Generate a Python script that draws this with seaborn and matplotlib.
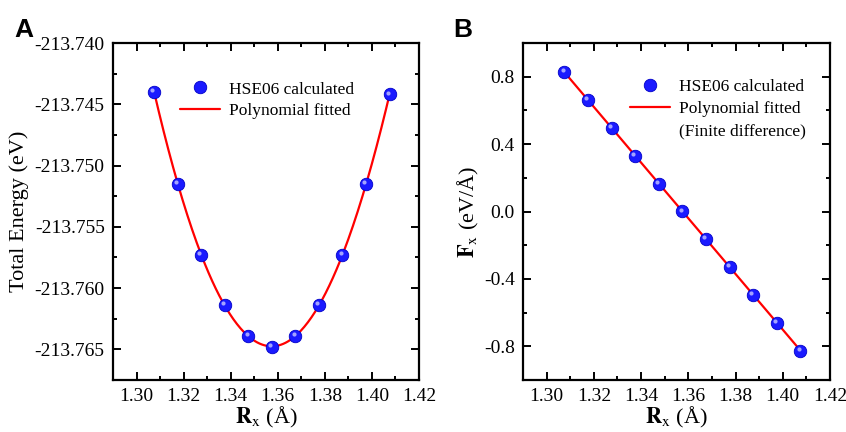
import numpy as np
import pandas as pd
import matplotlib
matplotlib.use("Agg")
import matplotlib.pyplot as plt
import matplotlib.transforms as mtransforms
from matplotlib.lines import Line2D
from matplotlib.ticker import MultipleLocator, FormatStrFormatter
import seaborn as sns

# displacement (Å)
rx = [1.3075, 1.3175, 1.3275, 1.3375, 1.3475, 1.3575, 1.3675, 1.3775, 1.3875, 1.3975, 1.4075]
# HSE06 total energy (eV)
energy = [-213.7440, -213.7515, -213.7573, -213.7614, -213.7639, -213.7648,
          -213.7639, -213.7614, -213.7573, -213.7515, -213.7442]
# force (eV/Å)
force = [0.828, 0.661, 0.497, 0.332, 0.165, 0.001, -0.164, -0.329, -0.495, -0.660, -0.825]

dfA = pd.DataFrame({"rx": rx, "E": energy})
dfB = pd.DataFrame({"rx": rx, "F": force})

# polynomial fits
xfit = np.linspace(rx[0], rx[-1], 200)
pE = np.polyfit(rx, energy, 4)
fitA = pd.DataFrame({"rx": xfit, "E": np.polyval(pE, xfit)})
pF = np.polyfit(rx, force, 1)
fitB = pd.DataFrame({"rx": xfit, "F": np.polyval(pF, xfit)})

sns.set_theme(style="ticks")
plt.rcParams["font.family"] = ["Liberation Serif", "DejaVu Serif"]
plt.rcParams["mathtext.fontset"] = "stix"
plt.rcParams["text.color"] = "black"
plt.rcParams["axes.labelcolor"] = "black"

SERIF = "Liberation Serif"

fig = plt.figure(figsize=(8.46, 4.32), dpi=100)
axA = fig.add_axes([113/846, 1-380/432, 306/846, 337/432])
axB = fig.add_axes([523/846, 1-380/432, 307/846, 337/432])


def balls(ax, x, y, label):
    ax.plot(x, y, "o", ms=9, color="#1a1aff", mec="#0000c8", mew=0.6,
            label=label, zorder=3)
    off = mtransforms.offset_copy(ax.transData, fig=fig, x=-1.3, y=1.3, units="points")
    ax.plot(x, y, "o", ms=3, color="white", mew=0, alpha=0.6,
            transform=off, zorder=4)


def style(ax):
    for s in ax.spines.values():
        s.set_linewidth(1.6)
        s.set_color("black")
    ax.tick_params(which="both", direction="in", top=True, right=True,
                   labelsize=14, colors="black", width=1.4,
                   labelfontfamily=SERIF)
    ax.tick_params(which="major", length=6, pad=6)
    ax.tick_params(which="minor", length=3)
    ax.set_xlim(1.29, 1.42)
    ax.xaxis.set_major_locator(MultipleLocator(0.02))
    ax.xaxis.set_minor_locator(MultipleLocator(0.01))
    ax.xaxis.set_major_formatter(FormatStrFormatter("%.2f"))
    ax.set_xlabel(r"$\mathbf{R}_\mathrm{x}$ (Å)", fontsize=16, labelpad=0)


def legend(ax, handles, labels, anchor):
    ax.legend(handles, labels, loc="upper left", bbox_to_anchor=anchor,
              frameon=False, handlelength=2.3, handletextpad=0.5,
              borderaxespad=0, borderpad=0, labelspacing=0.33,
              prop={"family": SERIF, "size": 12.5})


# Panel A
sns.lineplot(data=fitA, x="rx", y="E", ax=axA, color="red", lw=1.6,
             label="Polynomial fitted", zorder=2)
balls(axA, dfA["rx"], dfA["E"], "HSE06 calculated")
axA.set_ylim(-213.7675, -213.740)
axA.yaxis.set_major_locator(MultipleLocator(0.005))
axA.yaxis.set_minor_locator(MultipleLocator(0.0025))
axA.yaxis.set_major_formatter(FormatStrFormatter("%.3f"))
axA.set_ylabel("Total Energy (eV)", fontsize=16, labelpad=4)
style(axA)
h, l = axA.get_legend_handles_labels()
legend(axA, [h[1], h[0]], [l[1], l[0]], (0.219, 0.886))

# Panel B
sns.lineplot(data=fitB, x="rx", y="F", ax=axB, color="red", lw=1.6,
             label="Polynomial fitted", zorder=2)
balls(axB, dfB["rx"], dfB["F"], "HSE06 calculated")
axB.set_ylim(-1.0, 1.0)
axB.yaxis.set_major_locator(MultipleLocator(0.4))
axB.yaxis.set_minor_locator(MultipleLocator(0.2))
axB.yaxis.set_major_formatter(FormatStrFormatter("%.1f"))
axB.set_ylabel(r"$\mathbf{F}_\mathrm{x}$ (eV/Å)", fontsize=16, labelpad=2)
style(axB)
h, l = axB.get_legend_handles_labels()
blank = Line2D([], [], linestyle="none")
legend(axB, [h[1], h[0], blank], [l[1], l[0], "(Finite difference)"], (0.349, 0.893))

fig.text(14/846, 1-30/432, "A", fontsize=19, fontweight="bold",
         family=["Liberation Sans", "DejaVu Sans"], va="center")
fig.text(453/846, 1-30/432, "B", fontsize=19, fontweight="bold",
         family=["Liberation Sans", "DejaVu Sans"], va="center")

fig.savefig("out.png", dpi=100)
